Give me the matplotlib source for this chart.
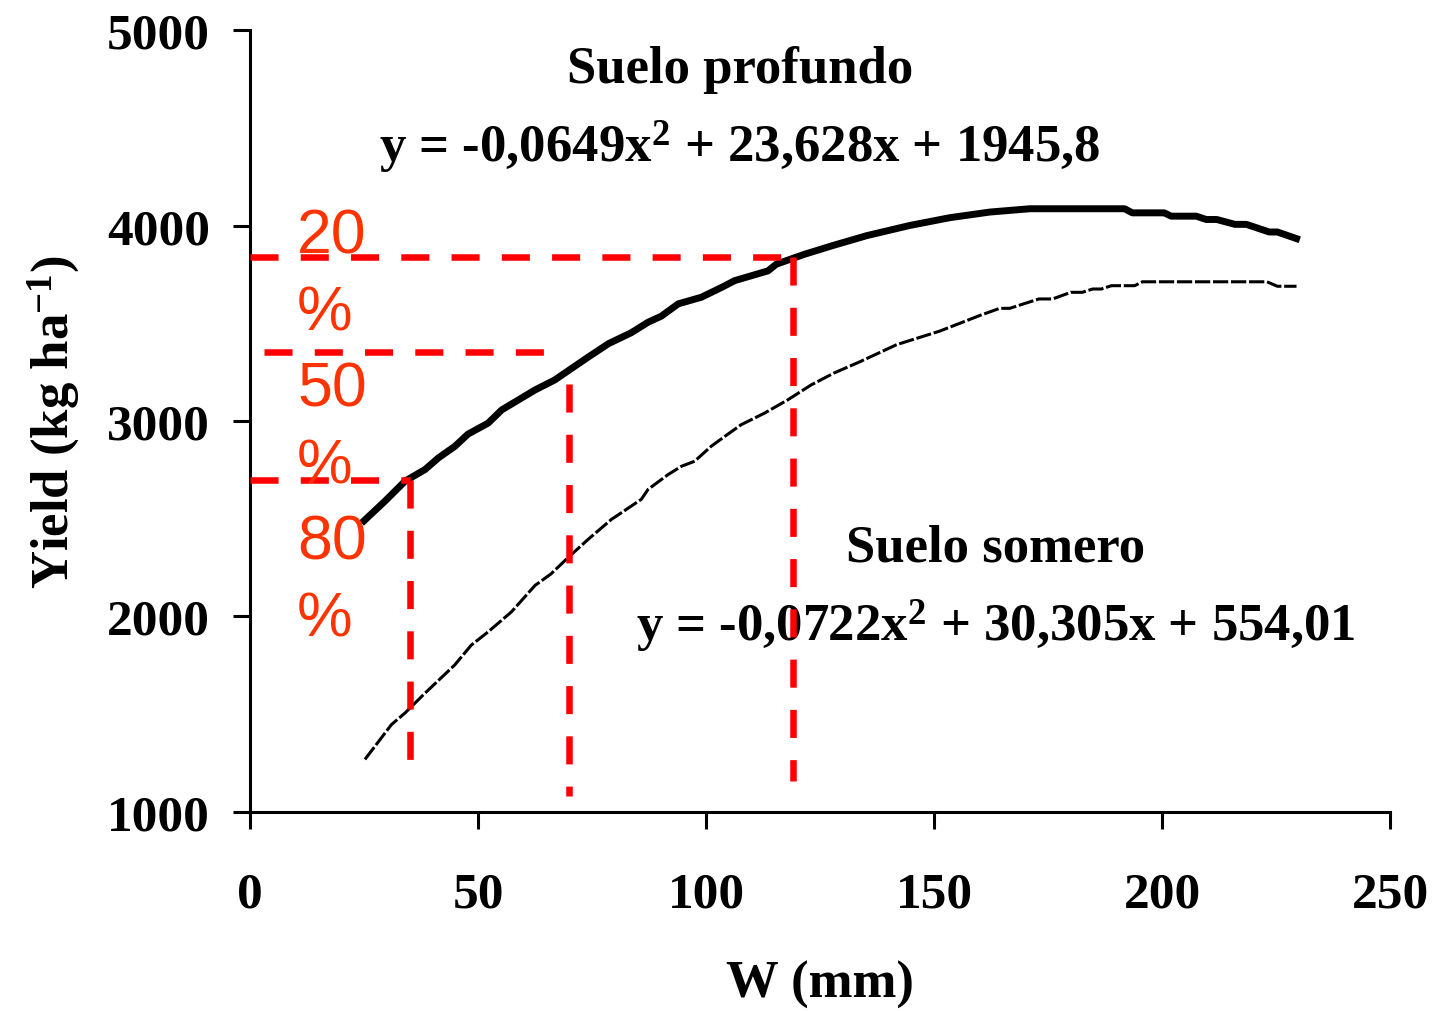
import matplotlib
matplotlib.use("Agg")
import matplotlib.pyplot as plt

# -------------------------
# Datos
# -------------------------

# Suelo profundo (linea gruesa)
deep_x = [25, 29.6, 34, 38.4, 41.3, 44.9, 47.8, 52.2, 55.2, 62.5, 66.8, 74.2,
          78.6, 83.6, 87.3, 90.2, 93.9, 99, 103.4, 106.3, 113.6, 115.4, 121.6,
          128, 135.2, 144.6, 153.4, 162.2, 171, 191.8, 193.5, 200.5, 202,
          207.5, 209.7, 212, 216, 218.5, 223.5, 225.3, 229.5]
deep_y = [2489, 2590, 2692, 2752, 2811, 2870, 2933, 2989, 3057, 3159, 3210, 3328,
          3396, 3452, 3506, 3537, 3600, 3634, 3684, 3719, 3769, 3803, 3854,
          3900, 3949, 4001, 4041, 4070, 4087, 4087, 4066, 4066, 4049,
          4049, 4032, 4032, 4007, 4007, 3968, 3968, 3934]

# Suelo somero (linea fina)
shallow_x = [25.2, 31, 34, 38.4, 44.9, 48.5, 52.2, 57.3, 62.5, 66, 69.8, 74.2,
             79.3, 81.5, 85.8, 87.3, 91.7, 94.6, 97.5, 101.1, 104.1, 107.7,
             112.8, 117.9, 123, 128, 133.7, 141.8, 151.2, 160, 164.4, 166.6,
             173, 176, 180, 182.5, 184.8, 186.7, 188.9, 194, 195.7, 223,
             225.3, 229.5]
shallow_y = [1267, 1445, 1505, 1607, 1751, 1852, 1920, 2022, 2158, 2217, 2302, 2395,
             2497, 2531, 2599, 2650, 2726, 2768, 2794, 2870, 2921, 2981,
             3040, 3108, 3184, 3245, 3303, 3391, 3460, 3540, 3577, 3577,
             3625, 3625, 3659, 3659, 3676, 3676, 3693, 3693, 3713, 3713,
             3690, 3690]

# lineas de referencia (20 %, 50 %, 80 %)
pct_labels = ["20", "50", "80"]
ref_yield = [3840, 3352, 2700]
ref_w = [119, 70, 35]
h_start = [0, 3, 0]
h_end = [119, 66, 35]
v_top = [3840, 3190, 2700]
v_bottom = [1155, 1080, 1155]

x_ticks = [0, 50, 100, 150, 200, 250]
y_ticks = [1000, 2000, 3000, 4000, 5000]

eq_profundo = "y = -0,0649x$^{2}$ + 23,628x + 1945,8"
eq_somero = "y = -0,0722x$^{2}$ + 30,305x + 554,01"

# -------------------------
# Estilo
# -------------------------

plt.rcParams['font.family'] = 'Liberation Serif'
plt.rcParams['font.weight'] = 'bold'
plt.rcParams['axes.labelweight'] = 'bold'
plt.rcParams['mathtext.fontset'] = 'custom'
plt.rcParams['mathtext.rm'] = 'Liberation Serif:bold'
plt.rcParams['mathtext.it'] = 'Liberation Serif:bold'
plt.rcParams['mathtext.bf'] = 'Liberation Serif:bold'

fig = plt.figure(figsize=(14.33, 10.12), dpi=100)
ax = fig.add_axes([0.1745, 0.1971, 0.7955, 0.7718])

# curvas
ax.plot(deep_x, deep_y, color="black", lw=5, solid_joinstyle="round", zorder=3)
ax.plot(shallow_x, shallow_y, color="black", lw=2.2, dashes=(5, 0.9), zorder=3)

# lineas rojas
for i in range(len(ref_yield)):
    ax.plot([h_start[i], h_end[i]], [ref_yield[i], ref_yield[i]],
            color="#ff0000", lw=4.7, dashes=(4.3, 3.4), dash_capstyle="butt", zorder=4)
    ax.plot([ref_w[i], ref_w[i]], [v_top[i], v_bottom[i]],
            color="#ff0000", lw=4.7, dashes=(4.3, 3.4), dash_capstyle="butt", zorder=4)

# textos de porcentaje
base = 3863
step = 392
for i, lab in enumerate(pct_labels):
    ax.text(10.3, base - 2 * i * step, lab, color="#ff3300", fontsize=45,
            family="Liberation Sans", fontweight="normal", va="baseline", ha="left", zorder=5)
    ax.text(10.3, base - (2 * i + 1) * step, "%", color="#ff3300", fontsize=45,
            family="Liberation Sans", fontweight="normal", va="baseline", ha="left", zorder=5)

# ecuaciones
ax.text(107.4, 4738, "Suelo profundo", fontsize=38, ha="center", va="baseline")
ax.text(107.4, 4331, eq_profundo, fontsize=38, ha="center", va="baseline")
ax.text(163.6, 2285, "Suelo somero", fontsize=38, ha="center", va="baseline")
ax.text(163.6, 1878, eq_somero, fontsize=38, ha="center", va="baseline")

# ejes
ax.set_xlim(0, 250)
ax.set_ylim(1000, 5000)
ax.set_xticks(x_ticks)
ax.set_yticks(y_ticks)
ax.spines["top"].set_visible(False)
ax.spines["right"].set_visible(False)
ax.spines["left"].set_linewidth(2.2)
ax.spines["bottom"].set_linewidth(2.2)
ax.tick_params(axis="both", direction="out", length=12, width=2.2, labelsize=37)
ax.tick_params(axis="y", pad=17)
ax.tick_params(axis="x", pad=31)

ax.set_xlabel("W (mm)", fontsize=38, fontweight="bold", labelpad=31)
ax.set_ylabel("Yield (kg ha$^{-1}$)", fontsize=38, fontweight="bold", labelpad=18)

fig.savefig("out.png", dpi=100)
